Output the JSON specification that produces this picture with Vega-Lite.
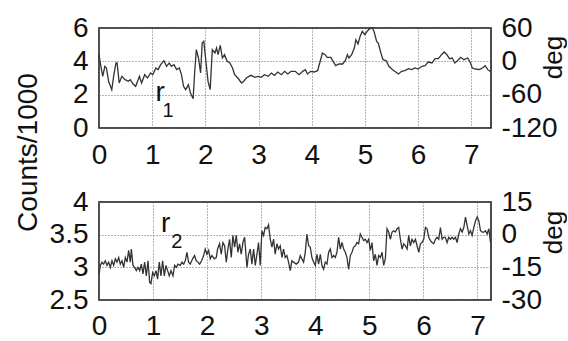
{
  "$schema": "https://vega.github.io/schema/vega-lite/v6.json",
  "padding": {"left": 13, "top": 13, "right": 0, "bottom": 0},
  "background": "white",
  "bounds": "flush",
  "spacing": 74,
  "config": {
    "font": "Liberation Sans",
    "view": {"stroke": "#111", "strokeWidth": 1.5},
    "axis": {
      "labelFont": "Liberation Sans", "labelFontSize": 28, "labelColor": "#111",
      "titleFont": "Liberation Sans", "titleFontSize": 28, "titleFontWeight": "normal", "titleColor": "#111",
      "gridColor": "#666", "gridDash": [1, 2], "gridWidth": 1, "labelOverlap": false,
      "tickSize": 0, "domain": false, "labelPadding": 11
    }
  },
  "datasets": {
    "r1": [
      {"t":0.0,"c":4.4},{"t":0.03,"c":3.8},{"t":0.07,"c":3.1},{"t":0.11,"c":3.7},{"t":0.14,"c":3.6},{"t":0.18,"c":2.8},{"t":0.24,"c":2.3},{"t":0.28,"c":3.2},{"t":0.32,"c":3.9},{"t":0.34,"c":3.9},{"t":0.38,"c":2.7},{"t":0.43,"c":3.1},{"t":0.49,"c":2.9},{"t":0.55,"c":2.8},{"t":0.59,"c":2.9},{"t":0.64,"c":2.64},{"t":0.69,"c":2.5},{"t":0.76,"c":3.1},{"t":0.8,"c":2.7},{"t":0.86,"c":3.2},{"t":0.91,"c":3.0},{"t":0.97,"c":3.3},{"t":1.01,"c":3.2},{"t":1.07,"c":3.6},{"t":1.11,"c":3.5},{"t":1.16,"c":3.8},{"t":1.22,"c":4.04},{"t":1.27,"c":3.7},{"t":1.32,"c":3.9},{"t":1.36,"c":3.7},{"t":1.41,"c":3.8},{"t":1.46,"c":3.5},{"t":1.51,"c":3.6},{"t":1.55,"c":3.2},{"t":1.59,"c":2.5},{"t":1.63,"c":2.3},{"t":1.68,"c":2.6},{"t":1.72,"c":2.1},{"t":1.77,"c":1.76},{"t":1.8,"c":3.4},{"t":1.83,"c":4.7},{"t":1.87,"c":4.2},{"t":1.91,"c":3.3},{"t":1.94,"c":5.1},{"t":1.97,"c":5.2},{"t":2.01,"c":4.0},{"t":2.05,"c":2.8},{"t":2.09,"c":2.3},{"t":2.13,"c":4.7},{"t":2.18,"c":4.5},{"t":2.21,"c":4.8},{"t":2.24,"c":4.4},{"t":2.28,"c":4.96},{"t":2.32,"c":4.2},{"t":2.36,"c":4.4},{"t":2.41,"c":4.0},{"t":2.46,"c":3.9},{"t":2.51,"c":3.6},{"t":2.55,"c":3.2},{"t":2.61,"c":3.0},{"t":2.68,"c":2.7},{"t":2.72,"c":2.8},{"t":2.77,"c":3.0},{"t":2.82,"c":3.1},{"t":2.86,"c":3.16},{"t":2.93,"c":3.04},{"t":2.99,"c":3.1},{"t":3.05,"c":3.04},{"t":3.11,"c":3.2},{"t":3.18,"c":3.1},{"t":3.24,"c":3.3},{"t":3.3,"c":3.16},{"t":3.36,"c":3.36},{"t":3.43,"c":3.2},{"t":3.49,"c":3.4},{"t":3.55,"c":3.24},{"t":3.61,"c":3.4},{"t":3.69,"c":3.4},{"t":3.76,"c":3.2},{"t":3.83,"c":3.4},{"t":3.88,"c":3.5},{"t":3.92,"c":3.24},{"t":3.98,"c":3.4},{"t":4.04,"c":3.36},{"t":4.11,"c":3.44},{"t":4.15,"c":3.9},{"t":4.2,"c":4.5},{"t":4.25,"c":4.4},{"t":4.29,"c":4.24},{"t":4.36,"c":4.24},{"t":4.4,"c":4.0},{"t":4.45,"c":3.74},{"t":4.51,"c":3.84},{"t":4.58,"c":3.84},{"t":4.63,"c":4.04},{"t":4.67,"c":4.4},{"t":4.7,"c":4.2},{"t":4.75,"c":4.4},{"t":4.8,"c":4.8},{"t":4.83,"c":5.3},{"t":4.87,"c":5.04},{"t":4.91,"c":5.5},{"t":4.95,"c":5.8},{"t":5.0,"c":5.6},{"t":5.05,"c":5.84},{"t":5.09,"c":5.96},{"t":5.14,"c":6.0},{"t":5.17,"c":5.8},{"t":5.22,"c":5.2},{"t":5.25,"c":5.1},{"t":5.3,"c":4.5},{"t":5.34,"c":4.1},{"t":5.4,"c":4.04},{"t":5.45,"c":3.7},{"t":5.52,"c":3.5},{"t":5.58,"c":3.36},{"t":5.63,"c":3.24},{"t":5.69,"c":3.4},{"t":5.75,"c":3.44},{"t":5.82,"c":3.56},{"t":5.88,"c":3.5},{"t":5.94,"c":3.6},{"t":6.0,"c":3.54},{"t":6.07,"c":3.7},{"t":6.13,"c":3.74},{"t":6.19,"c":3.96},{"t":6.26,"c":3.9},{"t":6.32,"c":4.16},{"t":6.38,"c":4.16},{"t":6.44,"c":4.4},{"t":6.49,"c":4.56},{"t":6.54,"c":4.4},{"t":6.59,"c":4.16},{"t":6.64,"c":4.2},{"t":6.69,"c":3.9},{"t":6.74,"c":4.04},{"t":6.8,"c":4.24},{"t":6.86,"c":4.1},{"t":6.93,"c":4.2},{"t":6.97,"c":4.0},{"t":7.02,"c":3.6},{"t":7.08,"c":3.54},{"t":7.15,"c":3.5},{"t":7.21,"c":3.6},{"t":7.26,"c":3.74},{"t":7.31,"c":3.5},{"t":7.37,"c":3.36}
    ],
    "r2": [
      {"t":0.0,"c":2.9},{"t":0.025,"c":3.03},{"t":0.055,"c":3.08},{"t":0.086,"c":3.05},{"t":0.117,"c":3.1},{"t":0.148,"c":3.03},{"t":0.179,"c":3.08},{"t":0.209,"c":3.0},{"t":0.24,"c":3.1},{"t":0.271,"c":3.03},{"t":0.302,"c":3.13},{"t":0.333,"c":3.08},{"t":0.364,"c":3.15},{"t":0.394,"c":3.05},{"t":0.425,"c":3.1},{"t":0.456,"c":3.0},{"t":0.487,"c":3.15},{"t":0.518,"c":3.08},{"t":0.548,"c":3.26},{"t":0.579,"c":3.08},{"t":0.598,"c":3.28},{"t":0.628,"c":3.03},{"t":0.659,"c":3.0},{"t":0.69,"c":2.95},{"t":0.721,"c":3.0},{"t":0.752,"c":2.95},{"t":0.783,"c":3.05},{"t":0.813,"c":2.9},{"t":0.844,"c":3.08},{"t":0.875,"c":2.87},{"t":0.906,"c":3.1},{"t":0.937,"c":2.77},{"t":0.961,"c":2.75},{"t":0.992,"c":2.92},{"t":1.023,"c":2.87},{"t":1.054,"c":2.95},{"t":1.084,"c":2.82},{"t":1.115,"c":3.08},{"t":1.146,"c":2.87},{"t":1.177,"c":3.1},{"t":1.208,"c":2.87},{"t":1.238,"c":3.03},{"t":1.269,"c":2.95},{"t":1.3,"c":2.87},{"t":1.331,"c":2.95},{"t":1.368,"c":2.87},{"t":1.399,"c":3.03},{"t":1.429,"c":3.0},{"t":1.46,"c":3.05},{"t":1.503,"c":3.03},{"t":1.534,"c":3.08},{"t":1.565,"c":3.05},{"t":1.596,"c":3.1},{"t":1.627,"c":3.23},{"t":1.657,"c":3.08},{"t":1.688,"c":3.05},{"t":1.731,"c":3.13},{"t":1.768,"c":3.18},{"t":1.799,"c":3.1},{"t":1.83,"c":3.08},{"t":1.861,"c":3.05},{"t":1.898,"c":3.1},{"t":1.935,"c":3.18},{"t":1.965,"c":3.28},{"t":1.996,"c":3.2},{"t":2.027,"c":3.26},{"t":2.058,"c":3.13},{"t":2.089,"c":3.18},{"t":2.132,"c":3.13},{"t":2.169,"c":3.15},{"t":2.193,"c":3.28},{"t":2.23,"c":3.36},{"t":2.261,"c":3.2},{"t":2.292,"c":3.38},{"t":2.323,"c":3.33},{"t":2.354,"c":3.08},{"t":2.384,"c":3.28},{"t":2.415,"c":3.43},{"t":2.446,"c":3.15},{"t":2.477,"c":3.49},{"t":2.508,"c":3.31},{"t":2.539,"c":3.49},{"t":2.569,"c":3.23},{"t":2.6,"c":3.36},{"t":2.631,"c":3.2},{"t":2.662,"c":3.38},{"t":2.693,"c":3.46},{"t":2.736,"c":3.0},{"t":2.766,"c":3.2},{"t":2.797,"c":3.28},{"t":2.828,"c":3.05},{"t":2.859,"c":3.28},{"t":2.89,"c":3.03},{"t":2.921,"c":3.2},{"t":2.951,"c":3.38},{"t":2.982,"c":3.03},{"t":3.013,"c":3.56},{"t":3.044,"c":3.49},{"t":3.074,"c":3.61},{"t":3.105,"c":3.59},{"t":3.136,"c":3.65},{"t":3.167,"c":3.43},{"t":3.198,"c":3.31},{"t":3.229,"c":3.43},{"t":3.259,"c":3.2},{"t":3.29,"c":3.36},{"t":3.321,"c":3.28},{"t":3.352,"c":3.33},{"t":3.383,"c":3.15},{"t":3.413,"c":3.28},{"t":3.444,"c":3.15},{"t":3.475,"c":3.18},{"t":3.506,"c":3.08},{"t":3.537,"c":2.95},{"t":3.567,"c":3.1},{"t":3.598,"c":3.08},{"t":3.648,"c":3.05},{"t":3.691,"c":3.08},{"t":3.722,"c":3.18},{"t":3.753,"c":3.13},{"t":3.784,"c":3.08},{"t":3.815,"c":3.23},{"t":3.846,"c":3.51},{"t":3.877,"c":3.33},{"t":3.907,"c":3.31},{"t":3.938,"c":3.15},{"t":3.969,"c":3.08},{"t":4.0,"c":3.03},{"t":4.031,"c":3.2},{"t":4.062,"c":3.05},{"t":4.093,"c":3.2},{"t":4.123,"c":3.03},{"t":4.154,"c":2.97},{"t":4.185,"c":3.08},{"t":4.216,"c":3.05},{"t":4.247,"c":3.23},{"t":4.278,"c":3.28},{"t":4.309,"c":3.15},{"t":4.34,"c":3.18},{"t":4.37,"c":3.15},{"t":4.401,"c":3.23},{"t":4.432,"c":3.46},{"t":4.463,"c":3.28},{"t":4.494,"c":3.38},{"t":4.525,"c":3.28},{"t":4.556,"c":3.23},{"t":4.586,"c":3.15},{"t":4.617,"c":2.97},{"t":4.648,"c":3.18},{"t":4.679,"c":3.23},{"t":4.71,"c":3.31},{"t":4.741,"c":3.33},{"t":4.772,"c":3.38},{"t":4.802,"c":3.36},{"t":4.833,"c":3.51},{"t":4.864,"c":3.46},{"t":4.895,"c":3.41},{"t":4.926,"c":3.43},{"t":4.957,"c":3.38},{"t":4.988,"c":3.43},{"t":5.019,"c":3.26},{"t":5.049,"c":3.38},{"t":5.08,"c":3.1},{"t":5.111,"c":3.2},{"t":5.142,"c":3.03},{"t":5.173,"c":3.18},{"t":5.204,"c":3.15},{"t":5.235,"c":3.23},{"t":5.265,"c":3.03},{"t":5.296,"c":3.13},{"t":5.327,"c":3.59},{"t":5.358,"c":3.54},{"t":5.389,"c":3.43},{"t":5.42,"c":3.54},{"t":5.451,"c":3.56},{"t":5.481,"c":3.54},{"t":5.512,"c":3.59},{"t":5.543,"c":3.61},{"t":5.574,"c":3.43},{"t":5.605,"c":3.28},{"t":5.636,"c":3.36},{"t":5.667,"c":3.33},{"t":5.698,"c":3.28},{"t":5.728,"c":3.49},{"t":5.759,"c":3.33},{"t":5.79,"c":3.43},{"t":5.821,"c":3.38},{"t":5.852,"c":3.43},{"t":5.883,"c":3.33},{"t":5.914,"c":3.23},{"t":5.944,"c":3.36},{"t":5.975,"c":3.38},{"t":6.006,"c":3.43},{"t":6.037,"c":3.61},{"t":6.068,"c":3.59},{"t":6.099,"c":3.46},{"t":6.13,"c":3.41},{"t":6.16,"c":3.38},{"t":6.191,"c":3.36},{"t":6.222,"c":3.43},{"t":6.253,"c":3.46},{"t":6.284,"c":3.43},{"t":6.315,"c":3.61},{"t":6.346,"c":3.43},{"t":6.377,"c":3.46},{"t":6.407,"c":3.46},{"t":6.438,"c":3.38},{"t":6.469,"c":3.46},{"t":6.5,"c":3.43},{"t":6.531,"c":3.46},{"t":6.562,"c":3.43},{"t":6.593,"c":3.46},{"t":6.623,"c":3.38},{"t":6.654,"c":3.51},{"t":6.685,"c":3.59},{"t":6.716,"c":3.54},{"t":6.747,"c":3.61},{"t":6.778,"c":3.77},{"t":6.809,"c":3.64},{"t":6.84,"c":3.51},{"t":6.87,"c":3.56},{"t":6.901,"c":3.49},{"t":6.932,"c":3.61},{"t":6.963,"c":3.71},{"t":6.994,"c":3.77},{"t":7.025,"c":3.71},{"t":7.056,"c":3.56},{"t":7.086,"c":3.54},{"t":7.117,"c":3.54},{"t":7.148,"c":3.56},{"t":7.179,"c":3.51},{"t":7.21,"c":3.59},{"t":7.241,"c":3.38}
    ],
    "lab1": [{"t": 1.15, "c": 2.09, "s": "r"}],
    "sub1": [{"t": 1.3, "c": 1.0, "s": "1"}],
    "lab2": [{"t": 1.235, "c": 3.66, "s": "r"}],
    "sub2": [{"t": 1.44, "c": 3.39, "s": "2"}],
    "deg1": [{"deg": -120}, {"deg": 60}],
    "deg2": [{"deg": -30}, {"deg": 15}]
  },
  "vconcat": [
    {
      "width": 392,
      "height": 100,
      "layer": [
        {
          "encoding": {
            "x": {"field": "t", "type": "quantitative",
              "scale": {"domain": [0, 7.37], "nice": false, "zero": false},
              "axis": {"values": [0, 1, 2, 3, 4, 5, 6, 7], "title": null, "labelFlush": false, "labelPadding": 13, "grid": true}},
            "y": {"field": "c", "type": "quantitative",
              "scale": {"domain": [0, 6], "nice": false, "zero": false},
              "axis": {"values": [0, 2, 4, 6], "title": "Counts/1000", "titleX": -71, "titleY": 124, "titleAngle": -90, "titleAlign": "center", "titleBaseline": "middle", "grid": true, "labelExpr": "toString(datum.value)"}}
          },
          "layer": [
            {
              "data": {"name": "r1"},
              "mark": {"type": "line", "color": "#333", "strokeWidth": 1.3}
            },
            {
              "data": {"name": "lab1"},
              "mark": {"type": "text", "fontSize": 28, "color": "#111", "font": "Liberation Sans"},
              "encoding": {"text": {"field": "s"}}
            },
            {
              "data": {"name": "sub1"},
              "mark": {"type": "text", "fontSize": 20, "color": "#111", "font": "Liberation Sans"},
              "encoding": {"text": {"field": "s"}}
            }
          ]
        },
        {
          "data": {"name": "deg1"},
          "mark": {"type": "point", "opacity": 0},
          "encoding": {
            "y": {"field": "deg", "type": "quantitative",
              "scale": {"domain": [-120, 60], "nice": false, "zero": false},
              "axis": {"orient": "right", "values": [-120, -60, 0, 60], "title": "deg", "titleFontSize": 26, "titleX": 62, "titleY": 29, "titleAngle": -90, "titleAlign": "center", "titleBaseline": "middle", "grid": false, "labelPadding": 10, "labelExpr": "toString(datum.value)"}}
          }
        }
      ],
      "resolve": {"scale": {"y": "independent"}}
    },
    {
      "width": 392,
      "height": 98,
      "layer": [
        {
          "encoding": {
            "x": {"field": "t", "type": "quantitative",
              "scale": {"domain": [0, 7.25], "nice": false, "zero": false},
              "axis": {"values": [0, 1, 2, 3, 4, 5, 6, 7], "title": null, "labelFlush": false, "labelPadding": 12, "grid": true}},
            "y": {"field": "c", "type": "quantitative",
              "scale": {"domain": [2.5, 4], "nice": false, "zero": false},
              "axis": {"values": [2.5, 3, 3.5, 4], "title": null, "grid": true, "labelExpr": "toString(datum.value)"}}
          },
          "layer": [
            {
              "data": {"name": "r2"},
              "mark": {"type": "line", "color": "#333", "strokeWidth": 1.3}
            },
            {
              "data": {"name": "lab2"},
              "mark": {"type": "text", "fontSize": 28, "color": "#111", "font": "Liberation Sans"},
              "encoding": {"text": {"field": "s"}}
            },
            {
              "data": {"name": "sub2"},
              "mark": {"type": "text", "fontSize": 20, "color": "#111", "font": "Liberation Sans"},
              "encoding": {"text": {"field": "s"}}
            }
          ]
        },
        {
          "data": {"name": "deg2"},
          "mark": {"type": "point", "opacity": 0},
          "encoding": {
            "y": {"field": "deg", "type": "quantitative",
              "scale": {"domain": [-30, 15], "nice": false, "zero": false},
              "axis": {"orient": "right", "values": [-30, -15, 0, 15], "title": "deg", "titleFontSize": 26, "titleX": 62, "titleY": 30, "titleAngle": -90, "titleAlign": "center", "titleBaseline": "middle", "grid": false, "labelPadding": 10, "labelExpr": "toString(datum.value)"}}
          }
        }
      ],
      "resolve": {"scale": {"y": "independent"}}
    }
  ]
}
